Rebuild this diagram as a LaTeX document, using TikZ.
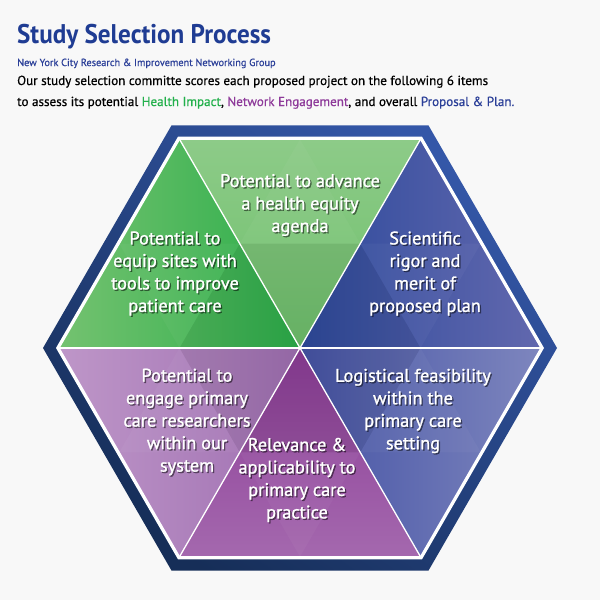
\documentclass[tikz,border=0pt]{standalone}
\usepackage{fontspec}
\setmainfont{PT Sans}
\newfontfamily\labelfont[FakeBold=1.2]{PT Sans}
\newfontfamily\bodyfont[FakeBold=0.5]{PT Sans}
\usepackage{tikz}
\usetikzlibrary{calc}
\usepackage{xcolor}
\definecolor{bgGrey}{HTML}{F8F8F8}
\definecolor{titleBlue}{HTML}{1F3C93}
\definecolor{subBlue}{HTML}{2B3F98}
\definecolor{impactGreen}{HTML}{22B04B}
\definecolor{engagePurple}{HTML}{8E3A9A}
\definecolor{planBlue}{HTML}{2B3F98}
\definecolor{bandLight}{HTML}{3457A8}
\definecolor{bandDark}{HTML}{162E58}

% label with a soft drop shadow
\newcommand{\facettext}[3]{%
  \node[facetshadow] (#1-sh) at ($(#2)+(1.3,1.3)$) {#3};
  \node[facetlabel] (#1) at (#2) {#3};}

\begin{document}
\begin{tikzpicture}[x=1pt, y=-1pt,
        sep/.style ={draw=white, line width=1.3pt, line join=round},
        facetlabel/.style ={text=white, align=center, inner sep=0pt,
                            font=\labelfont\fontsize{18.3}{22.5}\selectfont},
        facetshadow/.style ={facetlabel, text=black, opacity=0.45},
        heading/.style ={anchor=base west, inner sep=0pt},
    ]

\useasboundingbox[fill=bgGrey] (0,0) rectangle (600,600);

% Header

\node (title) [heading, xscale=0.93, text=titleBlue, font=\bfseries\fontsize{27}{30}\selectfont]
    at (17,43) {Study Selection Process};
\node (group) [heading, text=subBlue, font=\bodyfont\fontsize{10.3}{12}\selectfont]
    at (17,66) {New York City Research \& Improvement Networking Group};
\node (intro1) [heading, font=\bodyfont\fontsize{13.1}{16}\selectfont]
    at (17,85) {Our study selection committe scores each proposed project on the following 6 items};
\node (intro2) [heading, font=\bodyfont\fontsize{13.1}{16}\selectfont]
    at (17,106) {to assess its potential \textcolor{impactGreen}{Health Impact}, \textcolor{engagePurple}{Network Engagement}, and overall \textcolor{planBlue}{Proposal \& Plan.}};

% Hexagon

\coordinate (O) at (300,348);
\foreach \i in {0,...,5} {
    \coordinate (Q\i) at ($(O)+(\i*60:257)$);
    \coordinate (W\i) at ($(O)+(\i*60:244)$);
    \coordinate (P\i) at ($(O)+(\i*60:241)$);
}

\shade[top color=bandLight, bottom color=bandDark, shading angle=-35]
    (Q0) -- (Q1) -- (Q2) -- (Q3) -- (Q4) -- (Q5) -- cycle;
\fill[white] (W0) -- (W1) -- (W2) -- (W3) -- (W4) -- (W5) -- cycle;

% Six triangles

\shade[top color={rgb,255:red,141;green,203;blue,136}, bottom color={rgb,255:red,110;green,191;blue,107}]
    (O) -- (P4) -- (P5) -- cycle;
\shade[left color={rgb,255:red,116;green,194;blue,112}, right color={rgb,255:red,44;green,174;blue,74}]
    (O) -- (P3) -- (P4) -- cycle;
\shade[left color={rgb,255:red,46;green,74;blue,156}, right color={rgb,255:red,98;green,104;blue,174}]
    (O) -- (P5) -- (P0) -- cycle;
\shade[left color={rgb,255:red,190;green,150;blue,200}, right color={rgb,255:red,160;green,112;blue,178}]
    (O) -- (P2) -- (P3) -- cycle;
\shade[top color={rgb,255:red,140;green,60;blue,150}, bottom color={rgb,255:red,164;green,104;blue,174}]
    (O) -- (P1) -- (P2) -- cycle;
\shade[left color={rgb,255:red,70;green,84;blue,165}, right color={rgb,255:red,126;green,134;blue,190}]
    (O) -- (P0) -- (P1) -- cycle;

% facets
\foreach \a/\b in {0/1,1/2,2/3,3/4,4/5,5/0} {
    \fill[black, opacity=0.07] (O) -- ($(O)!0.5!(P\a)$) -- ($(O)!0.5!(P\b)$) -- cycle;
    \fill[white, opacity=0.035] ($(O)!0.5!(P\a)$) -- ($(P\a)!0.5!(P\b)$) -- ($(O)!0.5!(P\b)$) -- cycle;
}

% white separators
\foreach \i in {0,...,5}
    \draw[sep] (O) -- (P\i);
\draw[sep] (P0) -- (P1) -- (P2) -- (P3) -- (P4) -- (P5) -- cycle;

% Labels

\facettext{equity}{300,205}{Potential to advance\\a health equity\\agenda}
\facettext{equip}{175,273.5}{Potential to\\equip sites with\\tools to improve\\patient care}
\facettext{rigor}{425,273.5}{Scientific\\rigor and\\merit of\\proposed plan}
\facettext{engage}{187,422}{Potential to\\engage primary\\care researchers\\within our\\system}
\facettext{relevance}{297,480}{Relevance \&\\applicability to\\primary care\\practice}
\facettext{feasibility}{413,411}{Logistical feasibility\\within the\\primary care\\setting}

\end{tikzpicture}
\end{document}
